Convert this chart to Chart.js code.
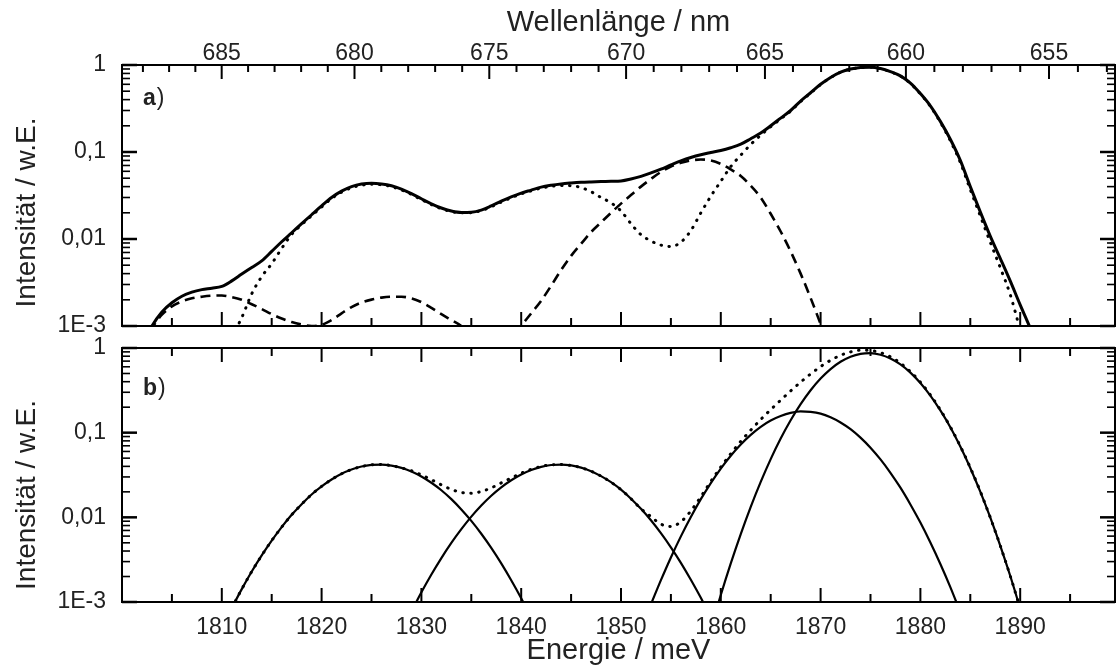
<!DOCTYPE html>
<html lang="de">
<head>
<meta charset="utf-8">
<title>Spektrum</title>
<script src="https://cdn.jsdelivr.net/npm/chart.js@4/dist/chart.umd.min.js"></script>
<style>
  html, body { margin: 0; padding: 0; background: #fff; }
  #wrap { position: relative; width: 1120px; height: 667px; overflow: hidden; background: #fff; }
  canvas { position: absolute; left: 0; }
  #panelA { top: 0; }
  #panelB { top: 337px; }
</style>
</head>
<body>
<div id="wrap">
  <canvas id="panelA" width="1120" height="337"></canvas>
  <canvas id="panelB" width="1120" height="330"></canvas>
</div>
<script>
// ---- axis ranges and ticks ----
const E_MIN = 1800, E_MAX = 1899.5;          // photon energy, meV
const HC = 1239841.98;                        // meV * nm (E = HC / lambda)

const energyMajor = [1810, 1820, 1830, 1840, 1850, 1860, 1870, 1880, 1890];
const energyMinor = [1805, 1815, 1825, 1835, 1845, 1855, 1865, 1875, 1885, 1895];
const wavelengthMajor = [685, 680, 675, 670, 665, 660, 655];
const wavelengthMinor = [688, 687, 686, 684, 683, 682, 681, 679, 678, 677, 676, 674, 673, 672, 671,
                         669, 668, 667, 666, 664, 663, 662, 661, 659, 658, 657, 656, 654, 653];
const intensityMajor = [0.001, 0.01, 0.1, 1];
const intensityLabels = ['1E-3', '0,01', '0,1', '1'];
const intensityMinor = [0.002, 0.003, 0.004, 0.005, 0.006, 0.007, 0.008, 0.009,
                        0.02, 0.03, 0.04, 0.05, 0.06, 0.07, 0.08, 0.09,
                        0.2, 0.3, 0.4, 0.5, 0.6, 0.7, 0.8, 0.9];

// ---- panel a: measured spectrum (solid), comparison spectrum (dotted), difference (dashed) ----
const energyA = [1802, 1803, 1804, 1805, 1806, 1807, 1808, 1809, 1810, 1811, 1812, 1813, 1814, 1815, 1816,
  1817, 1818, 1819, 1820, 1821, 1822, 1823, 1824, 1825, 1826, 1827, 1828, 1829, 1830, 1831, 1832, 1833,
  1834, 1835, 1836, 1837, 1838, 1839, 1840, 1841, 1842, 1843, 1844, 1845, 1846, 1847, 1848, 1849, 1850,
  1851, 1852, 1853, 1854, 1855, 1856, 1857, 1858, 1859, 1860, 1861, 1862, 1863, 1864, 1865, 1866, 1867,
  1868, 1869, 1870, 1871, 1872, 1873, 1874, 1875, 1876, 1877, 1878, 1879, 1880, 1881, 1882, 1883, 1884,
  1885, 1886, 1887, 1888, 1889, 1890, 1891, 1892];
const solidA = [0.00060, 0.00100, 0.00145, 0.00185, 0.00220, 0.00245, 0.00262, 0.00272, 0.00285, 0.00330,
  0.00395, 0.00470, 0.00560, 0.00720, 0.00930, 0.0118, 0.0150, 0.0190, 0.0240, 0.0300, 0.0355, 0.0400,
  0.0428, 0.0438, 0.0430, 0.0410, 0.0375, 0.0333, 0.0290, 0.0254, 0.0227, 0.0210, 0.0202, 0.0203, 0.0215,
  0.0240, 0.0272, 0.0305, 0.0337, 0.0365, 0.0395, 0.0415, 0.0430, 0.0440, 0.0448, 0.0453, 0.0457, 0.0460,
  0.0465, 0.0490, 0.0525, 0.0575, 0.0635, 0.0710, 0.0790, 0.0865, 0.0930, 0.0985, 0.104, 0.112, 0.123,
  0.142, 0.165, 0.200, 0.245, 0.300, 0.385, 0.480, 0.600, 0.720, 0.830, 0.900, 0.935, 0.945, 0.910, 0.840,
  0.750, 0.620, 0.470, 0.340, 0.225, 0.140, 0.0800, 0.0400, 0.0205, 0.0108, 0.0060, 0.0033, 0.00175,
  0.00095, 0.00050];

const energyDotA = [1811, 1812, 1813, 1814, 1815, 1816, 1817, 1818, 1819, 1820, 1821, 1822, 1823, 1824,
  1825, 1826, 1827, 1828, 1829, 1830, 1831, 1832, 1833, 1834, 1835, 1836, 1837, 1838, 1839, 1840, 1841,
  1842, 1843, 1844, 1845, 1846, 1847, 1848, 1849, 1850, 1851, 1852, 1853, 1854, 1855, 1856, 1857, 1858,
  1859, 1860, 1861, 1862, 1863, 1864, 1865, 1866, 1867, 1868, 1869, 1870, 1871, 1872, 1873, 1874, 1875,
  1876, 1877, 1878, 1879, 1880, 1881, 1882, 1883, 1884, 1885, 1886, 1887, 1888, 1889, 1890];
const dottedA = [0.00075, 0.00125, 0.00235, 0.0037, 0.0052, 0.0078, 0.0113, 0.0146, 0.0185, 0.0233,
  0.0292, 0.0345, 0.0388, 0.0415, 0.0426, 0.0420, 0.0400, 0.0366, 0.0326, 0.0284, 0.0249, 0.0223, 0.0207,
  0.0200, 0.0201, 0.0212, 0.0235, 0.0266, 0.0298, 0.0330, 0.0358, 0.0385, 0.0403, 0.0412, 0.0410, 0.0390,
  0.0350, 0.0300, 0.0260, 0.0210, 0.0150, 0.0112, 0.0095, 0.0085, 0.0082, 0.0092, 0.0125, 0.0200, 0.0310,
  0.0460, 0.0680, 0.0920, 0.122, 0.156, 0.195, 0.240, 0.295, 0.380, 0.475, 0.595, 0.715, 0.825, 0.895,
  0.930, 0.940, 0.905, 0.835, 0.745, 0.615, 0.465, 0.335, 0.220, 0.135, 0.0760, 0.0370, 0.0185, 0.0092,
  0.0047, 0.0023, 0.00090];

const energyDashA = [1802, 1803, 1804, 1805, 1806, 1807, 1808, 1809, 1810, 1811, 1812, 1813, 1814, 1815,
  1816, 1817, 1818, 1819, 1820, 1821, 1822, 1823, 1824, 1825, 1826, 1827, 1828, 1829, 1830, 1831, 1832,
  1833, 1834, 1835, 1836, 1837, 1838, 1839, 1840, 1841, 1842, 1843, 1844, 1845, 1846, 1847, 1848, 1849,
  1850, 1851, 1852, 1853, 1854, 1855, 1856, 1857, 1858, 1859, 1860, 1861, 1862, 1863, 1864, 1865, 1866,
  1867, 1868, 1869, 1870, 1871];
const dashedA = [0.00060, 0.00095, 0.00135, 0.00168, 0.00192, 0.00208, 0.00217, 0.00223, 0.00224, 0.00215,
  0.00200, 0.00178, 0.00157, 0.00137, 0.00122, 0.00111, 0.00104, 0.00100, 0.00103, 0.00117, 0.00140,
  0.00165, 0.00186, 0.00201, 0.00212, 0.00217, 0.00217, 0.00208, 0.00188, 0.00162, 0.00137, 0.00117,
  0.00100, 0.00080, 0.00062, 0.00052, 0.00052, 0.00068, 0.00100, 0.00140, 0.00195, 0.00290, 0.00440,
  0.00640, 0.00880, 0.0120, 0.0155, 0.0200, 0.0255, 0.0320, 0.0400, 0.0490, 0.0590, 0.0680, 0.0750,
  0.0800, 0.0820, 0.0800, 0.0730, 0.0630, 0.0530, 0.0410, 0.0300, 0.0195, 0.0122, 0.0072, 0.0040, 0.0021,
  0.00105, 0.00050];

// ---- panel b: four fitted components (solid) and their sum (dotted) ----
const energyG1 = [1811, 1812, 1813, 1814, 1815, 1816, 1817, 1818, 1819, 1820, 1821, 1822, 1823, 1824, 1825,
  1826, 1827, 1828, 1829, 1830, 1831, 1832, 1833, 1834, 1835, 1836, 1837, 1838, 1839, 1840, 1841];
const peak1 = [0.00085, 0.00142, 0.00229, 0.00355, 0.00531, 0.00766, 0.0107, 0.0143, 0.0186, 0.0232, 0.0280,
  0.0327, 0.0367, 0.0398, 0.0416, 0.0420, 0.0408, 0.0384, 0.0348, 0.0304, 0.0256, 0.0209, 0.0164, 0.0124,
  0.00908, 0.00640, 0.00436, 0.00286, 0.00181, 0.00111, 0.00065];

const energyG2 = [1829, 1830, 1831, 1832, 1833, 1834, 1835, 1836, 1837, 1838, 1839, 1840, 1841, 1842, 1843,
  1844, 1845, 1846, 1847, 1848, 1849, 1850, 1851, 1852, 1853, 1854, 1855, 1856, 1857, 1858, 1859];
const peak2 = [0.00077, 0.00130, 0.00211, 0.00330, 0.00498, 0.00724, 0.0102, 0.0138, 0.0180, 0.0226, 0.0274,
  0.0321, 0.0363, 0.0395, 0.0415, 0.0420, 0.0410, 0.0386, 0.0351, 0.0307, 0.0260, 0.0212, 0.0166, 0.0126,
  0.00922, 0.00650, 0.00442, 0.00290, 0.00183, 0.00112, 0.00066];

const energyG3 = [1853, 1854, 1855, 1856, 1857, 1858, 1859, 1860, 1861, 1862, 1863, 1864, 1865, 1866, 1867,
  1868, 1869, 1870, 1871, 1872, 1873, 1874, 1875, 1876, 1877, 1878, 1879, 1880, 1881, 1882, 1883, 1884];
const peak3 = [0.00094, 0.00181, 0.00336, 0.00596, 0.0101, 0.0164, 0.0254, 0.0377, 0.0534, 0.0725, 0.0941,
  0.117, 0.139, 0.157, 0.171, 0.178, 0.176, 0.168, 0.152, 0.132, 0.110, 0.0874, 0.0665, 0.0483, 0.0336,
  0.0224, 0.0142, 0.00867, 0.00504, 0.00281, 0.00150, 0.00076];

const energyG4 = [1859, 1860, 1861, 1862, 1863, 1864, 1865, 1866, 1867, 1868, 1869, 1870, 1871, 1872, 1873,
  1874, 1875, 1876, 1877, 1878, 1879, 1880, 1881, 1882, 1883, 1884, 1885, 1886, 1887, 1888, 1889, 1890];
const peak4 = [0.00048, 0.00121, 0.00286, 0.00635, 0.0133, 0.0262, 0.0487, 0.0851, 0.140, 0.217, 0.317,
  0.436, 0.564, 0.687, 0.789, 0.853, 0.869, 0.833, 0.752, 0.640, 0.512, 0.386, 0.274, 0.183, 0.116,
  0.0685, 0.0383, 0.0201, 0.00996, 0.00464, 0.00204, 0.00084];

const energySumB = [1811, 1812, 1813, 1814, 1815, 1816, 1817, 1818, 1819, 1820, 1821, 1822, 1823, 1824,
  1825, 1826, 1827, 1828, 1829, 1830, 1831, 1832, 1833, 1834, 1835, 1836, 1837, 1838, 1839, 1840, 1841,
  1842, 1843, 1844, 1845, 1846, 1847, 1848, 1849, 1850, 1851, 1852, 1853, 1854, 1855, 1856, 1857, 1858,
  1859, 1860, 1861, 1862, 1863, 1864, 1865, 1866, 1867, 1868, 1869, 1870, 1871, 1872, 1873, 1874, 1875,
  1876, 1877, 1878, 1879, 1880, 1881, 1882, 1883, 1884, 1885, 1886, 1887, 1888, 1889, 1890];
const sumB = [0.00085, 0.00142, 0.00229, 0.00355, 0.00531, 0.00766, 0.0107, 0.0143, 0.0186, 0.0232, 0.0280,
  0.0327, 0.0367, 0.0398, 0.0416, 0.0420, 0.0408, 0.0384, 0.0355, 0.0317, 0.0278, 0.0242, 0.0214, 0.0197,
  0.0192, 0.0202, 0.0223, 0.0255, 0.0292, 0.0332, 0.0369, 0.0399, 0.0417, 0.0420, 0.0410, 0.0386, 0.0351,
  0.0307, 0.0260, 0.0212, 0.0166, 0.0126, 0.0102, 0.00831, 0.00778, 0.00886, 0.0119, 0.0175, 0.0265,
  0.0393, 0.0563, 0.0789, 0.107, 0.143, 0.187, 0.242, 0.311, 0.395, 0.493, 0.603, 0.716, 0.820, 0.899,
  0.941, 0.935, 0.882, 0.786, 0.662, 0.526, 0.395, 0.279, 0.186, 0.117, 0.0693, 0.0386, 0.0203, 0.00996,
  0.00464, 0.00204, 0.00084];

// ---- styling ----
const FONT = '"Liberation Sans", Arial, Helvetica, sans-serif';
const TEXT = '#222';
const INK = '#000';
const TICK_FONT = { family: FONT, size: 23, lineHeight: 1 };
const TITLE_FONT = { family: FONT, size: 29, lineHeight: 1 };

Chart.defaults.font.family = FONT;
Chart.defaults.color = TEXT;

const pts = (xs, ys) => xs.map((x, i) => ({ x, y: ys[i] }));

const solid = (label, xs, ys, w) => ({
  label, data: pts(xs, ys), borderColor: INK, borderWidth: w, borderDash: [], fill: false
});
const dotted = (label, xs, ys) => ({
  label, data: pts(xs, ys), borderColor: INK, borderWidth: 3, borderDash: [0.5, 7.5],
  borderCapStyle: 'round', fill: false
});
const dashed = (label, xs, ys) => ({
  label, data: pts(xs, ys), borderColor: INK, borderWidth: 2.6, borderDash: [10, 6],
  borderCapStyle: 'butt', fill: false
});

// Frame with inward ticks on all four sides, rotated y title and panel tag
const framePlugin = {
  id: 'frame',
  afterDraw(chart, args, o) {
    const { ctx, chartArea: a } = chart;
    const xs = chart.scales.x, ys = chart.scales.y;
    ctx.save();
    ctx.strokeStyle = INK;
    ctx.lineCap = 'butt';
    const tick = (x1, y1, x2, y2, w) => {
      ctx.lineWidth = w;
      ctx.beginPath(); ctx.moveTo(x1, y1); ctx.lineTo(x2, y2); ctx.stroke();
    };
    // energy ticks on the bottom edge (and on the top edge of panel b)
    energyMajor.forEach(v => {
      const px = xs.getPixelForValue(v);
      tick(px, a.bottom, px, a.bottom - 14, 2);
      if (o.topAxis === 'energy') tick(px, a.top, px, a.top + 14, 2);
    });
    energyMinor.forEach(v => {
      const px = xs.getPixelForValue(v);
      if (px > a.right - 1) return;
      tick(px, a.bottom, px, a.bottom - 8, 2);
      if (o.topAxis === 'energy') tick(px, a.top, px, a.top + 8, 2);
    });
    // wavelength ticks on the top edge of panel a
    if (o.topAxis === 'wavelength') {
      wavelengthMajor.forEach(nm => {
        const px = xs.getPixelForValue(HC / nm);
        tick(px, a.top, px, a.top + 14, 2);
      });
      wavelengthMinor.forEach(nm => {
        const px = xs.getPixelForValue(HC / nm);
        if (px < a.left + 1 || px > a.right - 1) return;
        tick(px, a.top, px, a.top + 7, 2);
      });
    }
    // logarithmic ticks, left and right
    intensityMajor.forEach(v => {
      const py = ys.getPixelForValue(v);
      tick(a.left, py, a.left + 15, py, 2.5);
      tick(a.right, py, a.right - 15, py, 2.5);
    });
    intensityMinor.forEach(v => {
      const py = ys.getPixelForValue(v);
      tick(a.left, py, a.left + 8, py, 1.6);
      tick(a.right, py, a.right - 8, py, 1.6);
    });
    // frame
    ctx.lineWidth = 2;
    ctx.strokeRect(a.left, a.top, a.right - a.left, a.bottom - a.top);

    // y axis title
    ctx.fillStyle = TEXT;
    ctx.save();
    ctx.translate(35, (a.top + a.bottom) / 2 + o.titleShift);
    ctx.rotate(-Math.PI / 2);
    ctx.font = `28px ${FONT}`;
    ctx.textAlign = 'center';
    ctx.textBaseline = 'alphabetic';
    ctx.fillText('Intensität / w.E.', 0, 0);
    ctx.restore();

    // panel tag
    ctx.textAlign = 'left';
    ctx.textBaseline = 'alphabetic';
    const tx = a.left + 21, ty = a.top + o.tagDrop;
    ctx.font = `bold 23px ${FONT}`;
    ctx.fillText(o.tag, tx, ty);
    const w = ctx.measureText(o.tag).width;
    ctx.font = `23px ${FONT}`;
    ctx.fillText(')', tx + w + 1, ty);
    ctx.restore();
  }
};

const zeroPad = s => { s.paddingTop = 0; s.paddingBottom = 0; s.paddingLeft = 0; s.paddingRight = 0; };

const yScale = {
  type: 'logarithmic', position: 'left', min: 0.001, max: 1,
  afterFit: s => { s.width = 122; zeroPad(s); },
  afterBuildTicks: s => { s.ticks = intensityMajor.map(v => ({ value: v })); },
  ticks: { autoSkip: false, padding: 16, color: TEXT, font: TICK_FONT, callback: (v, i) => intensityLabels[i] },
  grid: { drawOnChartArea: false, drawTicks: false },
  border: { display: false }
};

const common = {
  responsive: false,
  animation: false,
  events: [],
  elements: { point: { radius: 0 }, line: { cubicInterpolationMode: 'monotone' } },
};

// panel a
new Chart(document.getElementById('panelA'), {
  type: 'line',
  data: {
    datasets: [
      solid('Messung', energyA, solidA, 3),
      dotted('Vergleich', energyDotA, dottedA),
      dashed('Differenz', energyDashA, dashedA)
    ]
  },
  options: {
    ...common,
    layout: { autoPadding: false, padding: { left: 0, right: 5, top: 0, bottom: 11 } },
    plugins: {
      legend: { display: false }, tooltip: { enabled: false },
      frame: { topAxis: 'wavelength', tag: 'a', tagDrop: 40, titleShift: 17 }
    },
    scales: {
      x: { type: 'linear', min: E_MIN, max: E_MAX, display: false },
      xTop: {
        type: 'linear', axis: 'x', position: 'top', min: E_MIN, max: E_MAX, display: true,
        afterFit: s => { s.height = 65; zeroPad(s); },
        afterBuildTicks: s => { s.ticks = wavelengthMajor.map(nm => ({ value: HC / nm })); },
        ticks: { autoSkip: false, maxRotation: 0, padding: 0, color: TEXT, font: TICK_FONT,
                 callback: (v, i) => String(wavelengthMajor[i]) },
        grid: { drawOnChartArea: false, drawTicks: false },
        border: { display: false },
        title: { display: true, text: 'Wellenlänge / nm', color: TEXT, font: TITLE_FONT, padding: { top: 8, bottom: 0 } }
      },
      y: yScale
    }
  },
  plugins: [framePlugin]
});

// panel b
new Chart(document.getElementById('panelB'), {
  type: 'line',
  data: {
    datasets: [
      solid('Linie 1', energyG1, peak1, 2.2),
      solid('Linie 2', energyG2, peak2, 2.2),
      solid('Linie 3', energyG3, peak3, 2.2),
      solid('Linie 4', energyG4, peak4, 2.2),
      dotted('Summe', energySumB, sumB)
    ]
  },
  options: {
    ...common,
    layout: { autoPadding: false, padding: { left: 0, right: 5, top: 11, bottom: 0 } },
    plugins: {
      legend: { display: false }, tooltip: { enabled: false },
      frame: { topAxis: 'energy', tag: 'b', tagDrop: 47, titleShift: 20 }
    },
    scales: {
      x: {
        type: 'linear', position: 'bottom', min: E_MIN, max: E_MAX,
        afterFit: s => { s.height = 65; zeroPad(s); },
        afterBuildTicks: s => { s.ticks = energyMajor.map(v => ({ value: v })); },
        ticks: { autoSkip: false, maxRotation: 0, padding: 14.5, color: TEXT, font: TICK_FONT,
                 callback: (v, i) => String(energyMajor[i]) },
        grid: { drawOnChartArea: false, drawTicks: false },
        border: { display: false },
        title: { display: true, text: 'Energie / meV', color: TEXT, font: TITLE_FONT, padding: { top: 0, bottom: 2 } }
      },
      y: { ...yScale, ticks: { ...yScale.ticks } }
    }
  },
  plugins: [framePlugin]
});
</script>
</body>
</html>
